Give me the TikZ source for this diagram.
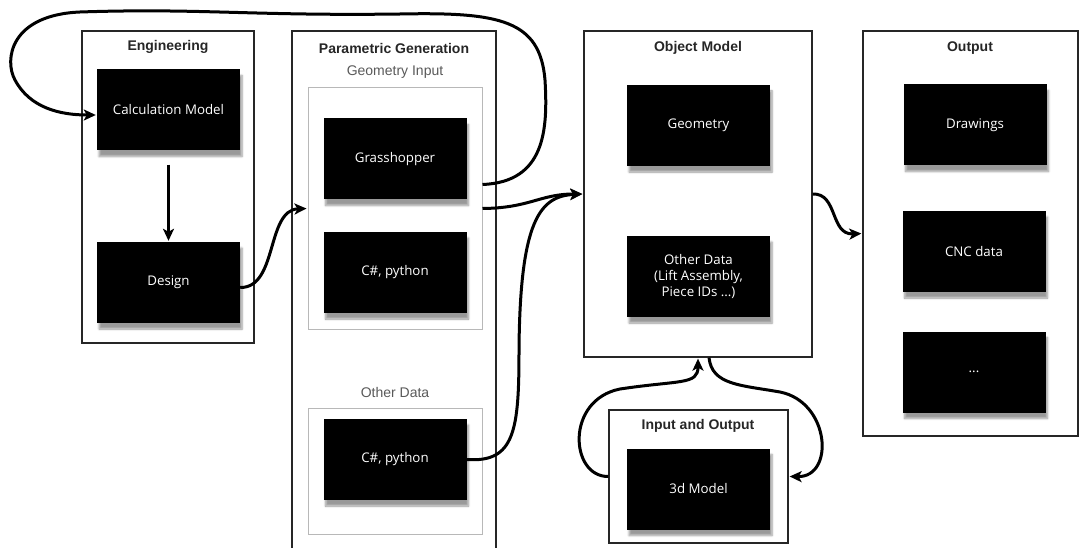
\documentclass[tikz,border=0pt]{standalone}
\usepackage{fontspec}
\setmainfont{Liberation Sans}
\newfontfamily\boxfont{Open Sans}
\usetikzlibrary{
        arrows,
        arrows.meta,
        positioning,
        shadows.blur
    }
\tikzset{>={Stealth[length=12pt,width=11pt,inset=3pt]},shorten >=1pt,auto}
\tikzset{
    frame/.style={draw=black!85,line width=1.3pt,inner sep=0pt},
    group/.style={draw=black!28,line width=1pt,inner sep=0pt},
    blk/.style={fill=black,text=white,minimum width=143pt,minimum height=81pt,
        inner sep=2pt,align=center,font=\boxfont\fontsize{13.3}{16}\selectfont,
        blur shadow={shadow xshift=2pt,shadow yshift=-6pt,shadow blur steps=6,shadow opacity=40}},
    title/.style={font=\bfseries\fontsize{14}{16}\selectfont,text=black!85},
    subtitle/.style={font=\fontsize{14}{16}\selectfont,text=black!65},
    flow/.style={->,line width=3pt}
}

\begin{document}
\begin{tikzpicture}[x=1pt,y=-1pt]
    \useasboundingbox (0,0) rectangle (1079,548);
    \clip (0,0) rectangle (1079,548);

    \node[frame,minimum width=172pt,minimum height=312pt] (eng)    at (168,187)   {};
    \node[frame,minimum width=204pt,minimum height=568pt] (param)  at (394,315)   {};
    \node[frame,minimum width=228pt,minimum height=326pt] (objmod) at (698,194)   {};
    \node[frame,minimum width=215pt,minimum height=405pt] (out)    at (970.5,233.5) {};
    \node[frame,minimum width=179pt,minimum height=133pt] (io)     at (698.5,476.5) {};
    \node[group,minimum width=174pt,minimum height=241pt] (geoin)  at (395,208.5) {};
    \node[group,minimum width=174pt,minimum height=126pt] (othin)  at (395,471)   {};

    \node[title]    (engt)  at (168,47)  {Engineering};
    \node[title]    (part)  at (394,48)  {Parametric Generation};
    \node[subtitle] (geot)  at (395,72)  {Geometry Input};
    \node[subtitle] (otht)  at (395,392) {Other Data};
    \node[title]    (objt)  at (698,48)  {Object Model};
    \node[title]    (outt)  at (970,48)  {Output};
    \node[title]    (iot)   at (698,426) {Input and Output};

    \node[blk] (calc)     at (168.5,110)   {Calculation Model};
    \node[blk] (design)   at (168.5,282.5) {Design};
    \node[blk] (gh)       at (395,159)     {Grasshopper};
    \node[blk] (csA)      at (395,272.5)   {C\#, python};
    \node[blk] (csB)      at (395,459.5)   {C\#, python};
    \node[blk] (geom)     at (698.5,125.5) {Geometry};
    \node[blk] (othdata)  at (698.5,276.5) {Other Data\\(Lift Assembly,\\Piece IDs ...)};
    \node[blk] (drawings) at (975,125)     {Drawings};
    \node[blk] (cnc)      at (974,251.5)   {CNC data};
    \node[blk] (dots)     at (974,372)     {...};
    \node[blk] (model3d)  at (698.5,489)   {3d Model};

    \draw[flow,shorten <=14pt] (calc) -- (design);
    \draw[flow] ([yshift=-5pt]design.east) .. controls (278,288) and (266,210) .. (geoin.west);
    \draw[flow] (geoin.east) .. controls (530,208) and (540,194) .. (objmod.west);
    \draw[flow] (csB.east) .. controls (515,463) and (519,430) .. (519,350)
                           .. controls (520,220) and (540,196) .. (objmod.west);
    \draw[flow] ([yshift=24pt]geoin.east) .. controls (545,182) and (548,130) .. (545,80)
                .. controls (540,20) and (500,12) .. (400,14)
                .. controls (250,16) and (200,8) .. (80,12)
                .. controls (10,15) and (4,60) .. (15,80)
                .. controls (30,108) and (60,115) .. ([yshift=-5pt]calc.west);
    \draw[flow] (objmod.east) .. controls (838,193) and (830,235) .. (out.west);
    \draw[flow] (io.west) .. controls (570,477) and (565,400) .. (620,389)
                .. controls (680,380) and (698,385) .. (objmod.south);
    \draw[flow] ([xshift=11pt]objmod.south) .. controls (712,385) and (740,385) .. (780,392)
                .. controls (830,402) and (835,477) .. (io.east);
\end{tikzpicture}
\end{document}
